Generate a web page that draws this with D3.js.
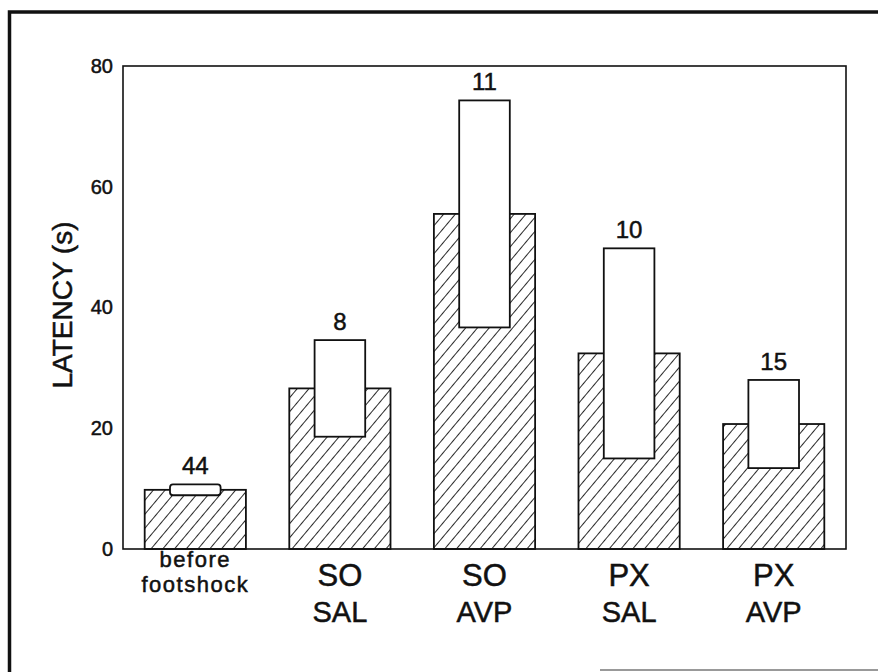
<!DOCTYPE html>
<meta charset="utf-8" />
<head>
  <script src="https://d3js.org/d3.v7.min.js"></script>
  <title>Latency</title>
  <style>
    body {
      margin: 0;
      background: #fff;
    }
    text {
      font-family: "Liberation Sans", Arial, sans-serif;
      fill: #111;
      stroke: #111;
      stroke-width: 0.5px;
    }
    .frame {
      stroke: #111;
      fill: none;
    }
  </style>
</head>
<body>
  <svg id="chart" width="878" height="672"></svg>
</body>

<script>
  // values
  const groups = ["before footshock", "SO SAL", "SO AVP", "PX SAL", "PX AVP"];
  const line1 = ["before", "SO", "SO", "PX", "PX"];
  const line2 = ["footshock", "SAL", "AVP", "SAL", "AVP"];
  const means = [9.8, 26.6, 55.5, 32.4, 20.7];
  const sems = [0.9, 8.0, 18.8, 17.4, 7.3];
  const counts = [44, 8, 11, 10, 15];
  const yTicks = [0, 20, 40, 60, 80];

  const data = groups.map((g, i) => ({
    group: g,
    top: line1[i],
    bottom: line2[i],
    mean: means[i],
    sem: sems[i],
    n: counts[i],
  }));

  const svg = d3.select("#chart");
  const margin = { top: 66, right: 32, bottom: 123, left: 123 };
  const width = +svg.attr("width");
  const height = +svg.attr("height");

  const x = d3
    .scaleBand()
    .domain(groups)
    .range([margin.left, width - margin.right])
    .paddingInner(0.3)
    .paddingOuter(0.15);

  const y = d3
    .scaleLinear()
    .domain([0, 80])
    .range([height - margin.bottom, margin.top]);

  // hatch pattern
  const defs = svg.append("defs");
  defs
    .append("pattern")
    .attr("id", "hatch")
    .attr("patternUnits", "userSpaceOnUse")
    .attr("width", 9)
    .attr("height", 9)
    .attr("patternTransform", "rotate(40)")
    .append("line")
    .attr("x1", 0)
    .attr("y1", 0)
    .attr("x2", 0)
    .attr("y2", 9)
    .attr("stroke", "#111")
    .attr("stroke-width", 1.8);

  // outer page frame
  svg
    .append("path")
    .attr("class", "frame")
    .attr("stroke-width", 3.5)
    .attr("d", `M9.5,672 V12 H878`);
  svg
    .append("line")
    .attr("x1", 600)
    .attr("x2", 878)
    .attr("y1", 670)
    .attr("y2", 670)
    .attr("stroke", "#999")
    .attr("stroke-width", 2);

  // plot box
  svg
    .append("rect")
    .attr("class", "frame")
    .attr("stroke-width", 1.6)
    .attr("x", margin.left)
    .attr("y", margin.top)
    .attr("width", width - margin.right - margin.left)
    .attr("height", y(0) - margin.top);

  // y axis labels (no tick marks)
  const yAxis = svg
    .append("g")
    .attr("class", "axis--y")
    .attr("transform", `translate(${margin.left},0)`)
    .call(d3.axisLeft(y).tickValues(yTicks).tickSize(0).tickPadding(10));
  yAxis.select(".domain").remove();
  yAxis
    .selectAll("text")
    .style("font-family", '"Liberation Sans", Arial, sans-serif')
    .style("font-size", "20px")
    .attr("fill", "#111");

  svg
    .append("text")
    .attr("transform", `translate(72,305) rotate(-90)`)
    .attr("text-anchor", "middle")
    .style("font-size", "28px")
    .text("LATENCY (s)");

  // hatched mean bars
  svg
    .append("g")
    .selectAll("rect")
    .data(data)
    .enter()
    .append("rect")
    .attr("x", (d) => x(d.group))
    .attr("y", (d) => y(d.mean))
    .attr("width", x.bandwidth())
    .attr("height", (d) => y(0) - y(d.mean))
    .attr("fill", "url(#hatch)")
    .attr("stroke", "#111")
    .attr("stroke-width", 1.8);

  // white SEM boxes
  const boxW = x.bandwidth() * 0.5;
  svg
    .append("g")
    .selectAll("rect")
    .data(data)
    .enter()
    .append("rect")
    .attr("x", (d) => x(d.group) + (x.bandwidth() - boxW) / 2)
    .attr("y", (d) => y(d.mean + d.sem))
    .attr("width", boxW)
    .attr("height", (d) => y(d.mean - d.sem) - y(d.mean + d.sem))
    .attr("rx", (d) => (d.sem < 2 ? 3 : 0))
    .attr("fill", "#fff")
    .attr("stroke", "#111")
    .attr("stroke-width", 1.8);

  // n labels
  svg
    .append("g")
    .selectAll("text")
    .data(data)
    .enter()
    .append("text")
    .attr("x", (d) => x(d.group) + x.bandwidth() / 2)
    .attr("y", (d) => y(d.mean + d.sem) - 10)
    .attr("text-anchor", "middle")
    .style("font-size", "24px")
    .text((d) => d.n);

  // category labels (two lines)
  const cats = svg
    .append("g")
    .selectAll("g")
    .data(data)
    .enter()
    .append("g")
    .attr("transform", (d) => `translate(${x(d.group) + x.bandwidth() / 2},0)`);

  cats
    .append("text")
    .attr("text-anchor", "middle")
    .attr("y", (d, i) => (i === 0 ? 567 : 586))
    .style("font-size", (d, i) => (i === 0 ? "22px" : "31px"))
    .style("letter-spacing", (d, i) => (i === 0 ? "1.5px" : null))
    .text((d) => d.top);

  cats
    .append("text")
    .attr("text-anchor", "middle")
    .attr("y", (d, i) => (i === 0 ? 592 : 622))
    .style("font-size", (d, i) => (i === 0 ? "22px" : "29px"))
    .style("letter-spacing", (d, i) => (i === 0 ? "1.5px" : null))
    .text((d) => d.bottom);
</script>
